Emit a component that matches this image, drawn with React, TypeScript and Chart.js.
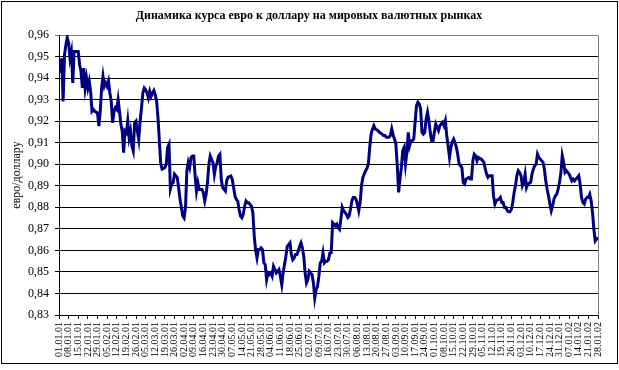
import React, { useEffect, useRef } from "react";
import { Chart, registerables } from "chart.js";

Chart.register(...registerables);

const TITLE = "Динамика курса евро к доллару на мировых валютных рынках";
const Y_TITLE = "евро/доллару";
const Y_MIN = 0.83;
const Y_MAX = 0.96;
const Y_STEP = 0.01;
const X_LAST_DAY = 392; // 28.01.02, counted from 01.01.01
const X_STEP_DAYS = 7;

// days counted from 01.01.2001 and EUR/USD rate
const q1Days = [
  1, 2, 3, 4, 5, 6, 7, 8, 9, 10,
  11, 13, 14, 15, 16, 17, 18, 19, 20, 21,
  22, 23, 24, 25, 26, 28, 29, 30, 31, 32,
  33, 34, 35, 36, 37, 38, 39, 40, 41, 42,
  43, 44, 45, 46, 47, 48, 49, 50, 51, 52,
  53, 54, 55, 56, 57, 58, 59, 60, 61, 62,
  63, 64, 65, 66, 67, 68, 69, 70, 71, 72,
  73, 74, 75, 76, 77, 78, 79, 80, 81, 82,
  83, 84, 85, 86, 87, 88, 89,
];
const q1Rates = [
  0.9423, 0.9492, 0.9292, 0.9508, 0.9554, 0.9588, 0.9562, 0.9492, 0.9523, 0.9377,
  0.9523, 0.9523, 0.9523, 0.9462, 0.9431, 0.9354, 0.9446, 0.9354, 0.94, 0.9354,
  0.9385, 0.9338, 0.9246, 0.9254, 0.9246, 0.9238, 0.9177, 0.9246, 0.9354, 0.9408,
  0.9362, 0.9377, 0.9362, 0.9385, 0.9331, 0.9292, 0.9192, 0.9246, 0.9262, 0.9254,
  0.93, 0.9246, 0.9185, 0.9154, 0.9054, 0.9154, 0.9146, 0.92, 0.9123, 0.9154,
  0.9085, 0.9062, 0.9192, 0.92, 0.9154, 0.9115, 0.92, 0.9262, 0.9331, 0.9354,
  0.9346, 0.9331, 0.9308, 0.9338, 0.9315, 0.933, 0.9342, 0.9323, 0.9292, 0.9215,
  0.9108, 0.9, 0.8977, 0.898, 0.8985, 0.9, 0.9077, 0.9092, 0.8885, 0.8908,
  0.8915, 0.8954, 0.8946, 0.8938, 0.8892, 0.8838, 0.88,
];

const q2Days = [
  90, 91, 92, 93, 94, 95, 96, 97, 98, 99,
  100, 101, 102, 104, 105, 106, 107, 108, 109, 110,
  111, 112, 113, 114, 115, 116, 117, 118, 119, 120,
  121, 122, 123, 124, 125, 126, 127, 128, 129, 130,
  131, 132, 133, 134, 135, 136, 137, 138, 139, 140,
  141, 142, 143, 144, 145, 146, 147, 148, 149, 150,
  151, 152, 153, 154, 155, 156, 157, 158, 159, 160,
  161, 162, 163, 164, 165, 166, 167, 168, 169, 170,
  171, 172, 173, 174, 175, 176, 177, 178, 179, 180,
];
const q2Rates = [
  0.876, 0.875, 0.88, 0.897, 0.9008, 0.8985, 0.9031, 0.9038, 0.9038, 0.8945,
  0.8875, 0.8914, 0.8883, 0.8883, 0.8867, 0.8829, 0.886, 0.8914, 0.9, 0.9038,
  0.9022, 0.9007, 0.8953, 0.8991, 0.9007, 0.9038, 0.9046, 0.893, 0.8891, 0.8883,
  0.8875, 0.8925, 0.894, 0.8942, 0.8945, 0.8929, 0.8891, 0.8852, 0.8836, 0.8829,
  0.879, 0.8759, 0.8751, 0.8767, 0.8805, 0.8829, 0.8821, 0.8821, 0.8813, 0.8805,
  0.8774, 0.8666, 0.86, 0.8565, 0.8604, 0.8604, 0.8612, 0.8604, 0.8542, 0.8534,
  0.8464, 0.8495, 0.8488, 0.8495, 0.848, 0.8526, 0.8511, 0.8495, 0.8503, 0.8511,
  0.848, 0.8441, 0.8495, 0.8534, 0.8573, 0.8619, 0.8627, 0.8635, 0.858, 0.8557,
  0.8565, 0.8581, 0.8581, 0.8596, 0.8619, 0.8635, 0.8612, 0.8573, 0.8495, 0.8449,
];

const q3Days = [
  181, 182, 183, 184, 185, 186, 187, 188, 189, 190,
  191, 192, 193, 194, 195, 196, 197, 198, 199, 200,
  201, 202, 203, 204, 205, 206, 207, 208, 209, 210,
  211, 212, 213, 214, 215, 216, 217, 218, 219, 220,
  221, 222, 223, 224, 225, 226, 227, 228, 229, 230,
  231, 232, 233, 235, 236, 237, 238, 240, 241, 242,
  243, 244, 245, 246, 247, 248, 249, 250, 251, 252,
  253, 254, 255, 256, 257, 258, 259, 260, 261, 262,
  263, 264, 265, 266, 267, 268, 269, 270, 271, 272,
];
const q3Rates = [
  0.8464, 0.8503, 0.8495, 0.8488, 0.845, 0.8379, 0.8418, 0.8433, 0.848, 0.8542,
  0.855, 0.8588, 0.8542, 0.855, 0.855, 0.8557, 0.8588, 0.859, 0.8729, 0.8722,
  0.8714, 0.8722, 0.8706, 0.8698, 0.8745, 0.88, 0.8784, 0.8776, 0.8768, 0.8753,
  0.876, 0.8791, 0.883, 0.8846, 0.8846, 0.8838, 0.8815, 0.8784, 0.8822, 0.89,
  0.8939, 0.8954, 0.897, 0.8981, 0.9001, 0.908, 0.914, 0.9164, 0.9179, 0.9164,
  0.916, 0.9156, 0.9148, 0.914, 0.9133, 0.9133, 0.9125, 0.9125, 0.9133, 0.9164,
  0.9136, 0.9117, 0.9094, 0.8993, 0.8869, 0.8931, 0.8985, 0.9063, 0.9078, 0.9001,
  0.9055, 0.9148, 0.9086, 0.9109, 0.9109, 0.9117, 0.9195, 0.9272, 0.9288, 0.928,
  0.9257, 0.9148, 0.914, 0.9148, 0.921, 0.9241, 0.9202, 0.9148, 0.9109, 0.9109,
];

const q4Days = [
  273, 274, 275, 276, 277, 278, 279, 280, 281, 282,
  283, 284, 285, 286, 287, 288, 289, 290, 291, 292,
  293, 294, 295, 296, 298, 299, 300, 301, 302, 303,
  304, 305, 306, 307, 309, 310, 311, 312, 313, 315,
  316, 317, 318, 320, 321, 322, 323, 324, 325, 326,
  327, 328, 329, 330, 331, 332, 333, 334, 335, 336,
  337, 338, 339, 340, 341, 343, 344, 345, 346, 347,
  348, 349, 350, 351, 352, 353, 354, 355, 356, 357,
  358, 359, 360, 361, 362, 363, 364, 365, 366, 367,
  368, 369, 370, 371, 372, 373, 374, 375, 377, 378,
  379, 380, 381, 382, 383, 384, 385, 386, 387, 388,
  389, 390, 391, 392,
];
const q4Rates = [
  0.9148, 0.9187, 0.9171, 0.9156, 0.9179, 0.9187, 0.9195, 0.9179, 0.9202, 0.9133,
  0.9086, 0.9032, 0.9078, 0.9102, 0.9117, 0.9102, 0.9078, 0.9044, 0.9001, 0.8993,
  0.8985, 0.8915, 0.8908, 0.8931, 0.8939, 0.8931, 0.8931, 0.9016, 0.9047, 0.904,
  0.9016, 0.9032, 0.9027, 0.9024, 0.9009, 0.8978, 0.8954, 0.8939, 0.8947, 0.8947,
  0.8853, 0.8815, 0.883, 0.8838, 0.8846, 0.8822, 0.8822, 0.8799, 0.8799, 0.8784,
  0.8779, 0.8779, 0.8791, 0.8822, 0.8869, 0.89, 0.8947, 0.897, 0.8962, 0.8947,
  0.89, 0.8916, 0.8954, 0.8892, 0.8908, 0.8916, 0.8954, 0.8978, 0.8993, 0.9001,
  0.9047, 0.9032, 0.9024, 0.9016, 0.9009, 0.8978, 0.8923, 0.8884, 0.8853, 0.8815,
  0.8784, 0.8807, 0.8838, 0.8853, 0.8861, 0.8884, 0.8916, 0.896, 0.904, 0.9009,
  0.8962, 0.897, 0.8962, 0.8954, 0.8939, 0.8923, 0.8931, 0.8923, 0.8939, 0.8947,
  0.8908, 0.8846, 0.8822, 0.8815, 0.8838, 0.8846, 0.8846, 0.8861, 0.883, 0.8776,
  0.8698, 0.8644, 0.8652, 0.866,
];

function formatDay(day: number): string {
  const d = new Date(2001, 0, 1 + Math.round(day));
  const dd = String(d.getDate()).padStart(2, "0");
  const mm = String(d.getMonth() + 1).padStart(2, "0");
  const yy = String(d.getFullYear() % 100).padStart(2, "0");
  return `${dd}.${mm}.${yy}`;
}

const SERIF = "'Liberation Serif', 'Times New Roman', serif";

export default function App() {
  const ref = useRef<HTMLCanvasElement | null>(null);

  useEffect(() => {
    document.body.style.margin = "0";
    const days = [...q1Days, ...q2Days, ...q3Days, ...q4Days];
    const rates = [...q1Rates, ...q2Rates, ...q3Rates, ...q4Rates];
    const points = days.map((d, i) => ({ x: d, y: rates[i] }));

    const framePlugin = {
      id: "frame",
      beforeDatasetsDraw(chart: any) {
        const { ctx, chartArea } = chart;
        ctx.save();
        ctx.strokeStyle = "#808080";
        ctx.lineWidth = 1;
        const rx = Math.round(chartArea.right) + 0.5;
        ctx.beginPath();
        ctx.moveTo(rx, Math.round(chartArea.top) + 0.5);
        ctx.lineTo(rx, Math.round(chartArea.bottom) + 0.5);
        ctx.stroke();
        ctx.restore();
      },
      afterDraw(chart: any) {
        const { ctx } = chart;
        ctx.save();
        ctx.fillStyle = "#000";
        ctx.font = `bold 12px ${SERIF}`;
        ctx.textAlign = "center";
        ctx.textBaseline = "middle";
        ctx.fillText(TITLE, 309, 16);
        ctx.strokeStyle = "#000";
        ctx.lineWidth = 1;
        ctx.strokeRect(1.5, 1.5, 616, 362);
        ctx.restore();
      },
    };

    const chart = new Chart(ref.current as HTMLCanvasElement, {
      type: "line",
      data: {
        datasets: [
          {
            data: points,
            borderColor: "#000080",
            borderWidth: 3,
            pointRadius: 0,
            tension: 0,
            fill: false,
          },
        ],
      },
      options: {
        responsive: false,
        animation: false,
        events: [],
        layout: { padding: { top: 35, right: 21, bottom: 0, left: 0 } },
        plugins: {
          legend: { display: false },
          tooltip: { enabled: false },
          title: { display: false },
        },
        scales: {
          x: {
            type: "linear",
            min: 0,
            max: X_LAST_DAY,
            ticks: {
              stepSize: X_STEP_DAYS,
              autoSkip: false,
              maxRotation: 90,
              minRotation: 90,
              padding: 3,
              color: "#000",
              font: { family: SERIF, size: 10 },
              callback: (v: any) => formatDay(Number(v)),
            },
            grid: {
              drawOnChartArea: false,
              drawTicks: true,
              tickLength: 4,
              color: "#000",
            },
            border: { color: "#000", width: 1 },
            afterFit: (s: any) => {
              s.height = 55;
            },
          },
          y: {
            min: Y_MIN,
            max: Y_MAX,
            ticks: {
              stepSize: Y_STEP,
              padding: 6,
              color: "#000",
              font: { family: SERIF, size: 12 },
              callback: (v: any) => Number(v).toFixed(2).replace(".", ","),
            },
            grid: {
              color: (c: any) => (c.index === 13 ? "#808080" : "#000"),
              tickLength: 4,
              lineWidth: 1,
            },
            border: { color: "#000", width: 1 },
            title: {
              display: true,
              text: Y_TITLE,
              color: "#000",
              font: { family: SERIF, size: 12 },
              padding: { top: 10, bottom: 0 },
            },
            afterFit: (s: any) => {
              s.width = 59;
            },
          },
        },
      },
      plugins: [framePlugin],
    } as any);

    return () => chart.destroy();
  }, []);

  return (
    <canvas
      ref={ref}
      width={619}
      height={370}
      style={{ display: "block", width: 619, height: 370 }}
    />
  );
}
